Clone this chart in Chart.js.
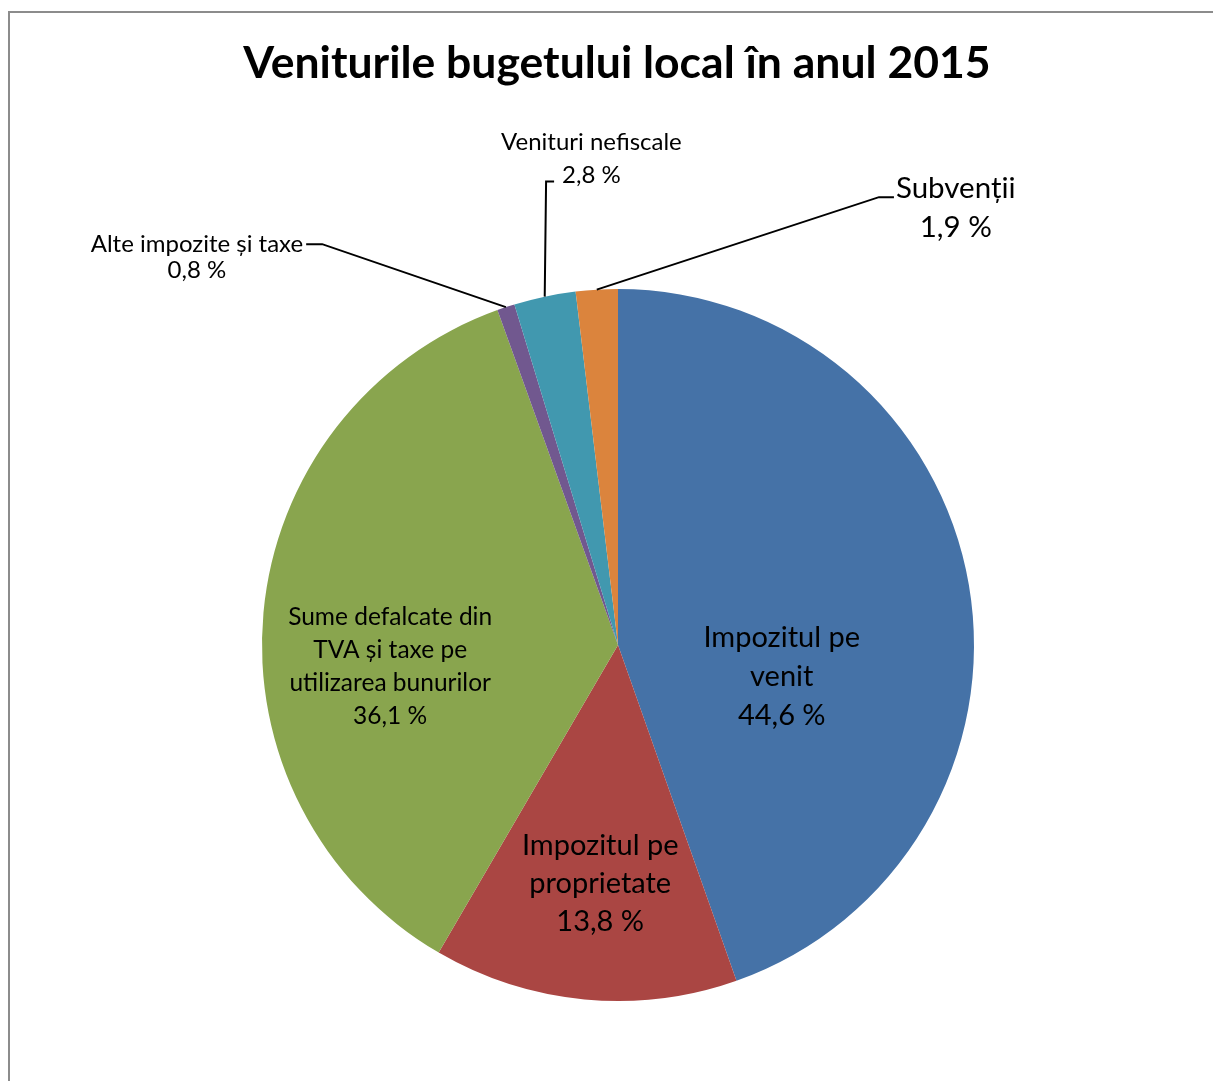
<!DOCTYPE html>
<html>
<head>
<meta charset="utf-8">
<script src="https://cdn.jsdelivr.net/npm/chart.js"></script>
<style>
    html, body { margin: 0; padding: 0; background: #fff; }
    #wrap { position: relative; width: 1213px; height: 1081px; }
    #frame { position: absolute; left: 8px; top: 11px; width: 1220px; height: 1100px; border: 2px solid #8c8c8c; box-sizing: border-box; }
    canvas { position: absolute; left: 0; top: 0; }
</style>
</head>
<body>
<div id="wrap">
    <div id="frame"></div>
    <canvas id="pie" width="1213" height="1081"></canvas>
</div>
<script>
const categories = [
    "Impozitul pe venit",
    "Impozitul pe proprietate",
    "Sume defalcate din TVA și taxe pe utilizarea bunurilor",
    "Alte impozite și taxe",
    "Venituri nefiscale",
    "Subvenții"
];
const shares = [44.6, 13.8, 36.1, 0.8, 2.8, 1.9];
const sliceColors = ["#4572A7", "#AA4643", "#89A54E", "#71588F", "#4198AF", "#DB843D"];
const labelLines = [
    ["Impozitul pe", "venit"],
    ["Impozitul pe", "proprietate"],
    ["Sume defalcate din", "TVA și taxe pe", "utilizarea bunurilor"],
    ["Alte impozite și taxe"],
    ["Venituri nefiscale"],
    ["Subvenții"]
];
const chartTitle = "Veniturile bugetului local în anul 2015";

const FONT = "Lato, 'Open Sans', sans-serif";
const fmt = (v) => v.toFixed(1).replace(".", ",") + " %";

// label placement, in units of the pie radius from its centre
const placement = [
    { inside: true, x: 0.46, y: 0.09, size: 29, lh: 39 },
    { inside: true, x: -0.05, y: 0.67, size: 29, lh: 38 },
    { inside: true, x: -0.64, y: 0.06, size: 24.5, lh: 33 },
    { inside: false, elbow: [-0.831, -1.126], side: "left", size: 24, lh: 26 },
    { inside: false, elbow: [-0.202, -1.302], side: "up", size: 24, lh: 33 },
    { inside: false, elbow: [0.733, -1.258], side: "right", size: 29.5, lh: 39 }
];

const pieLabels = {
    id: "pieLabels",
    afterDatasetsDraw(chart) {
        const ctx = chart.ctx;
        const arcs = chart.getDatasetMeta(0).data;
        ctx.save();
        ctx.fillStyle = "#000";
        ctx.strokeStyle = "#000";
        ctx.lineWidth = 2;
        ctx.textAlign = "center";

        // title, centred over the pie
        ctx.font = `bold 44.5px ${FONT}`;
        ctx.textBaseline = "alphabetic";
        ctx.fillText(chartTitle, arcs[0].x - 1, 78);
        ctx.textBaseline = "middle";

        arcs.forEach((arc, i) => {
            const p = placement[i];
            const r = arc.outerRadius;
            const lines = labelLines[i].concat([fmt(shares[i])]);
            ctx.font = `${p.size}px ${FONT}`;
            if (p.inside) {
                const cx = arc.x + p.x * r;
                const cy = arc.y + p.y * r;
                const top = cy - (lines.length - 1) * p.lh / 2;
                lines.forEach((t, k) => ctx.fillText(t, cx, top + k * p.lh));
                return;
            }
            const mid = (arc.startAngle + arc.endAngle) / 2;
            const ax = arc.x + Math.cos(mid) * r;
            const ay = arc.y + Math.sin(mid) * r;
            const ex = arc.x + p.elbow[0] * r;
            const ey = arc.y + p.elbow[1] * r;
            ctx.beginPath();
            ctx.moveTo(ax, ay);
            ctx.lineTo(ex, ey);
            if (p.side === "up") ctx.lineTo(ex + 8, ey);
            else if (p.side === "left") ctx.lineTo(ex - 16, ey);
            else ctx.lineTo(ex + 15, ey);
            ctx.stroke();
            if (p.side === "left") {
                const w = ctx.measureText(lines[0]).width;
                const cx = ex - 19 - w / 2;
                ctx.fillText(lines[0], cx, ey);
                ctx.fillText(lines[1], cx, ey + p.lh);
            } else if (p.side === "up") {
                const w2 = ctx.measureText(lines[1]).width;
                const cx = ex + 16 + w2 / 2;
                ctx.fillText(lines[1], cx, ey - 6);
                ctx.fillText(lines[0], cx, ey - 6 - p.lh);
            } else {
                const w = ctx.measureText(lines[0]).width;
                const cx = ex + 17 + w / 2;
                ctx.fillText(lines[0], cx, ey - 9);
                ctx.fillText(lines[1], cx, ey - 9 + p.lh);
            }
        });
        ctx.restore();
    }
};

new Chart(document.getElementById("pie"), {
    type: "pie",
    data: {
        labels: categories,
        datasets: [{
            data: shares,
            backgroundColor: sliceColors,
            borderWidth: 0
        }]
    },
    options: {
        responsive: false,
        animation: false,
        layout: { padding: { top: 289, left: 262, right: 239, bottom: 80 } },
        plugins: {
            legend: { display: false },
            tooltip: { enabled: false },
            title: { display: false }
        }
    },
    plugins: [pieLabels]
});
</script>
</body>
</html>
